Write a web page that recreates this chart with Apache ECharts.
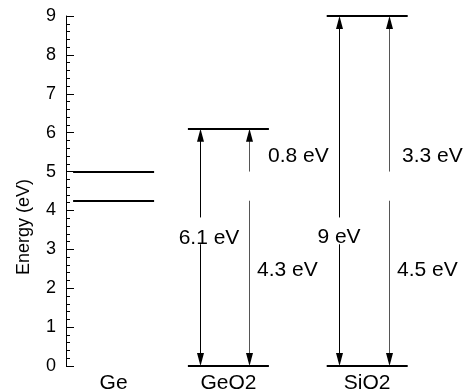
<!DOCTYPE html>
<html>
<head>
<meta charset="utf-8">
<script src="https://cdn.jsdelivr.net/npm/echarts@6/dist/echarts.min.js"></script>
<style>
  html, body { margin: 0; padding: 0; background: #fff; }
  #chart { width: 468px; height: 391px; }
</style>
</head>
<body>
<div id="chart"></div>
<script>
// Band diagram: Ge band edges and the GeO2 / SiO2 band gaps (eV)
const categories = ['Ge', 'GeO2', 'SiO2'];
const geLevels = [5.0, 4.25];            // Ge band edges
const oxideNames = ['GeO2', 'SiO2'];
const oxideBottom = [0, 0];              // oxide valence band edge
const oxideTop = [6.1, 9];               // oxide conduction band edge
const gapLabels = ['6.1 eV', '9 eV'];
const upperOffsetLabels = ['0.8 eV', '3.3 eV'];
const lowerOffsetLabels = ['4.3 eV', '4.5 eV'];
const labelWindow = [3.13, 3.82];        // break in the band-gap arrows for their label

// Horizontal layout on the hidden 0..100 x axis
const columnX = [11.9, 40.6, 75.3];
const gapArrowX = [33.5, 68.3];
const offsetArrowX = [45.75, 80.9];
const gapLabelPos = [[35.75, 3.29], [68.25, 3.31]];
const upperLabelPos = [[50.5, 5.39], [84, 5.39]];
const lowerLabelPos = [[47.75, 2.47], [82.75, 2.47]];

const FONT = "'Liberation Sans', Arial, Helvetica, sans-serif";
const LEVEL_HALF = 40.5;

// level lines: [x, energy]
const levelData = [];
geLevels.forEach(e => levelData.push([columnX[0], e]));
oxideNames.forEach((n, i) => {
  levelData.push([columnX[i + 1], oxideBottom[i]]);
  levelData.push([columnX[i + 1], oxideTop[i]]);
});

// arrows: [x, bottom, top, breakLow, breakHigh, colorIndex]
const arrowData = [];
oxideNames.forEach((n, i) => {
  arrowData.push([gapArrowX[i], oxideBottom[i], oxideTop[i], labelWindow[0], labelWindow[1], 0]);
  arrowData.push([offsetArrowX[i], oxideBottom[i], oxideTop[i], geLevels[1], geLevels[0], 1]);
});

// text labels: [x, y, text, align]
const textData = [];
oxideNames.forEach((n, i) => {
  textData.push([gapLabelPos[i][0], gapLabelPos[i][1], gapLabels[i], 'center']);
  textData.push([upperLabelPos[i][0], upperLabelPos[i][1], upperOffsetLabels[i], 'left']);
  textData.push([lowerLabelPos[i][0], lowerLabelPos[i][1], lowerOffsetLabels[i], 'left']);
});

const catData = categories.map((c, i) => [columnX[i], 0, c]);

const chart = echarts.init(document.getElementById('chart'), null, { renderer: 'canvas' });

function crisp(v) { return Math.round(v - 0.5) + 0.5; }

chart.setOption({
  animation: false,
  backgroundColor: '#fff',
  grid: { left: 66, right: 2, top: 16, bottom: 25, containLabel: false },
  xAxis: { type: 'value', min: 0, max: 100, show: false },
  yAxis: {
    type: 'value', min: 0, max: 9, interval: 1,
    name: 'Energy (eV)', nameLocation: 'middle', nameGap: 33,
    nameTextStyle: { fontFamily: FONT, fontSize: 18, color: '#000', padding: [0, 72, 0, 0] },
    axisLine: { show: true, lineStyle: { color: '#000', width: 1 } },
    axisTick: { show: true, inside: true, length: 8, lineStyle: { color: '#000' } },
    minorTick: { show: true, splitNumber: 5, length: 4, lineStyle: { color: '#000' } },
    splitLine: { show: false },
    axisLabel: { fontFamily: FONT, fontSize: 18, color: '#000', margin: 10 }
  },
  series: [
    {
      type: 'custom', name: 'levels', data: levelData, clip: false,
      renderItem: (params, api) => {
        const p = api.coord([api.value(0), api.value(1)]);
        const y = Math.round(p[1]);
        return {
          type: 'line',
          shape: { x1: p[0] - LEVEL_HALF, y1: y, x2: p[0] + LEVEL_HALF, y2: y },
          style: { stroke: '#000', lineWidth: 2 }
        };
      }
    },
    {
      type: 'custom', name: 'arrows', data: arrowData, clip: false,
      renderItem: (params, api) => {
        const x = crisp(api.coord([api.value(0), 0])[0]);
        const yb = api.coord([0, api.value(1)])[1];
        const yt = api.coord([0, api.value(2)])[1];
        const yl = api.coord([0, api.value(3)])[1];
        const yh = api.coord([0, api.value(4)])[1];
        const stroke = api.value(5) === 1 ? '#555' : '#000';
        const hl = 13, hw = 3.5;
        return {
          type: 'group',
          children: [
            { type: 'line', shape: { x1: x, y1: yt + hl - 1, x2: x, y2: yh }, style: { stroke, lineWidth: 1 } },
            { type: 'line', shape: { x1: x, y1: yl, x2: x, y2: yb - hl + 1 }, style: { stroke, lineWidth: 1 } },
            { type: 'polygon', shape: { points: [[x, yt], [x - hw, yt + hl], [x + hw, yt + hl]] }, style: { fill: '#000' } },
            { type: 'polygon', shape: { points: [[x, yb], [x - hw, yb - hl], [x + hw, yb - hl]] }, style: { fill: '#000' } }
          ]
        };
      }
    },
    {
      type: 'custom', name: 'labels', data: textData, clip: false,
      renderItem: (params, api) => {
        const d = textData[params.dataIndex];
        const p = api.coord([d[0], d[1]]);
        return {
          type: 'text', x: p[0], y: p[1],
          style: { text: d[2], fill: '#000', font: '21px ' + FONT, align: d[3], verticalAlign: 'middle' }
        };
      }
    },
    {
      type: 'custom', name: 'categories', data: catData, clip: false,
      renderItem: (params, api) => {
        const d = catData[params.dataIndex];
        const p = api.coord([d[0], d[1]]);
        return {
          type: 'text', x: p[0], y: p[1] + 17,
          style: { text: d[2], fill: '#000', font: '21px ' + FONT, align: 'center', verticalAlign: 'middle' }
        };
      }
    }
  ]
});
</script>
</body>
</html>
